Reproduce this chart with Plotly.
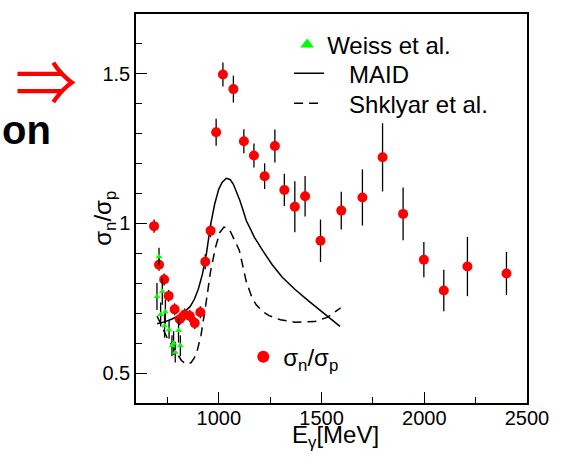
import plotly.graph_objects as go

# sigma_n / sigma_p ratio (this measurement)
ratio_e = [685, 709, 734, 756, 785, 810, 834, 859, 883, 910, 934, 960,
           987, 1020, 1071, 1122, 1171, 1223, 1273, 1319, 1370, 1420,
           1495, 1596, 1699, 1797, 1897, 1998, 2095, 2210, 2400]
ratio = [0.991, 0.862, 0.813, 0.758, 0.713, 0.680, 0.696, 0.691, 0.667,
         0.703, 0.872, 0.976, 1.305, 1.498, 1.449, 1.275, 1.227, 1.158,
         1.259, 1.112, 1.056, 1.091, 0.942, 1.043, 1.087, 1.221, 1.032,
         0.879, 0.776, 0.856, 0.833]
ratio_err = [0.022, 0.02, 0.02, 0.02, 0.02, 0.02, 0.02, 0.02, 0.02, 0.02,
             0.025, 0.022, 0.045, 0.04, 0.045, 0.04, 0.04, 0.043, 0.055,
             0.054, 0.085, 0.068, 0.071, 0.063, 0.094, 0.114, 0.088, 0.059,
             0.069, 0.099, 0.072]

# Weiss et al.
weiss_e = [699, 709, 717, 725, 736, 740, 758, 772, 780, 788, 804, 813]
weiss = [0.756, 0.889, 0.696, 0.773, 0.658, 0.705, 0.645, 0.591, 0.600,
         0.570, 0.642, 0.591]
weiss_err = [0.045, 0.03, 0.04, 0.045, 0.04, 0.04, 0.03, 0.035, 0.04,
             0.035, 0.04, 0.035]

# MAID prediction
maid_e = [700, 740, 770, 800, 830, 860, 880, 900, 920, 940, 960, 980, 1000,
          1016, 1036, 1055, 1071, 1088, 1103, 1120, 1134, 1155, 1174, 1214,
          1260, 1309, 1370, 1435, 1490, 1530, 1590]
maid = [0.665, 0.672, 0.680, 0.690, 0.703, 0.722, 0.745, 0.78, 0.83, 0.90,
        0.995, 1.065, 1.115, 1.137, 1.151, 1.147, 1.131, 1.105, 1.076, 1.04,
        1.009, 0.98, 0.953, 0.909, 0.862, 0.820, 0.78, 0.742, 0.711, 0.687,
        0.656]

# Shklyar et al. prediction
shk_e = [700, 720, 747, 770, 786, 805, 818, 835, 850, 865, 880, 895, 913,
         936, 960, 984, 1005, 1025, 1040, 1055, 1080, 1100, 1134, 1160, 1182,
         1215, 1245, 1300, 1372, 1467, 1530, 1593]
shk = [0.69, 0.66, 0.62, 0.595, 0.576, 0.555, 0.542, 0.533, 0.53, 0.535,
       0.55, 0.575, 0.625, 0.725, 0.84, 0.92, 0.97, 0.988, 0.985, 0.975,
       0.94, 0.91, 0.805, 0.755, 0.728, 0.705, 0.692, 0.678, 0.67, 0.672,
       0.687, 0.718]

x_range = [597, 2500]
y_range = [0.4, 1.7]
x_ticks = [1000, 1500, 2000, 2500]
y_ticks = [0.5, 1, 1.5]
y_ticktext = ["0.5", "1", "1.5"]

FONT = "Liberation Sans, Arial, sans-serif"
W, H = 561, 461
ML, MR, MT, MB = 136, 24, 12, 58
PW, PH = W - ML - MR, H - MT - MB


def px(x):
    return (x - ML) / PW


def py(y):
    return (H - MB - y) / PH


fig = go.Figure()

fig.add_trace(go.Scatter(
    x=maid_e, y=maid, mode="lines", name="\u00a0\u00a0\u00a0MAID",
    line=dict(color="black", width=1.5), legend="legend2"))
fig.add_trace(go.Scatter(
    x=shk_e, y=shk, mode="lines", name="\u00a0\u00a0\u00a0Shklyar et al.",
    line=dict(color="black", width=1.5, dash="9px,6px"), legend="legend3"))
fig.add_trace(go.Scatter(
    x=ratio_e, y=ratio, mode="markers",
    name="σ<sub>n</sub>/σ<sub>p</sub>",
    marker=dict(color="#ff0000", size=10, symbol="circle"),
    error_y=dict(type="data", array=ratio_err, color="black",
                 thickness=1.3, width=0),
    legend="legend4"))
fig.add_trace(go.Scatter(
    x=weiss_e, y=weiss, mode="markers", name="Weiss et al.",
    marker=dict(color="#00ff00", size=6, symbol="triangle-up"),
    error_y=dict(type="data", array=weiss_err, color="black",
                 thickness=1.3, width=0),
    legend="legend"))

leg_common = dict(bgcolor="rgba(0,0,0,0)", borderwidth=0,
                  font=dict(family=FONT, size=24, color="black"),
                  xanchor="left", yanchor="middle", xref="paper", yref="paper")

fig.update_layout(
    width=W, height=H,
    margin=dict(l=ML, r=MR, t=MT, b=MB, pad=0),
    paper_bgcolor="white", plot_bgcolor="white",
    font=dict(family=FONT, size=20, color="black"),
    showlegend=True,
    legend=dict(x=px(291), y=py(43), itemsizing="constant", **leg_common),
    legend2=dict(x=px(293), y=py(72), itemsizing="trace", **leg_common),
    legend3=dict(x=px(293), y=py(102), itemsizing="trace", **leg_common),
    legend4=dict(x=px(246), y=py(357), itemsizing="constant", **leg_common),
    xaxis=dict(
        range=x_range, tickvals=x_ticks, ticks="inside", ticklen=11,
        tickwidth=1.2, tickcolor="black", showgrid=False, zeroline=False,
        showline=True, linecolor="black", linewidth=1.5, mirror=True,
        ticklabelstandoff=-4,
        tickfont=dict(family=FONT, size=20, color="black"),
        minor=dict(dtick=250, tick0=0, ticks="inside", ticklen=6,
                   tickwidth=1.2, tickcolor="black", showgrid=False),
    ),
    yaxis=dict(
        range=y_range, tickvals=y_ticks, ticktext=y_ticktext,
        ticks="inside", ticklen=11, tickwidth=1.2, tickcolor="black",
        showgrid=False, zeroline=False, showline=True, linecolor="black",
        linewidth=1.5, mirror=True,
        tickfont=dict(family=FONT, size=20, color="black"),
        minor=dict(dtick=0.1, tick0=0, ticks="inside", ticklen=6,
                   tickwidth=1.2, tickcolor="black", showgrid=False),
    ),
)

# axis titles
fig.add_annotation(
    text="E<sub>γ</sub>[MeV]", xref="paper", yref="paper",
    x=px(341), y=py(437), xanchor="center", yanchor="middle",
    showarrow=False, font=dict(family=FONT, size=24, color="black"))
fig.add_annotation(
    text="σ<sub>n</sub>/σ<sub>p</sub>", xref="paper", yref="paper",
    x=px(104), y=py(217), xanchor="center", yanchor="middle", textangle=-90,
    showarrow=False, font=dict(family=FONT, size=24, color="black"))

# side text
fig.add_annotation(
    text="⇒", xref="paper", yref="paper", x=px(44), y=py(77),
    xanchor="center", yanchor="middle", showarrow=False,
    font=dict(family="Noto Sans CJK JP", size=62, color="#ff0000"))
fig.add_annotation(
    text="<b>on</b>", xref="paper", yref="paper", x=px(-3), y=py(129),
    xanchor="left", yanchor="middle", showarrow=False,
    font=dict(family=FONT, size=40, color="black"))

fig.write_html("out.html")
